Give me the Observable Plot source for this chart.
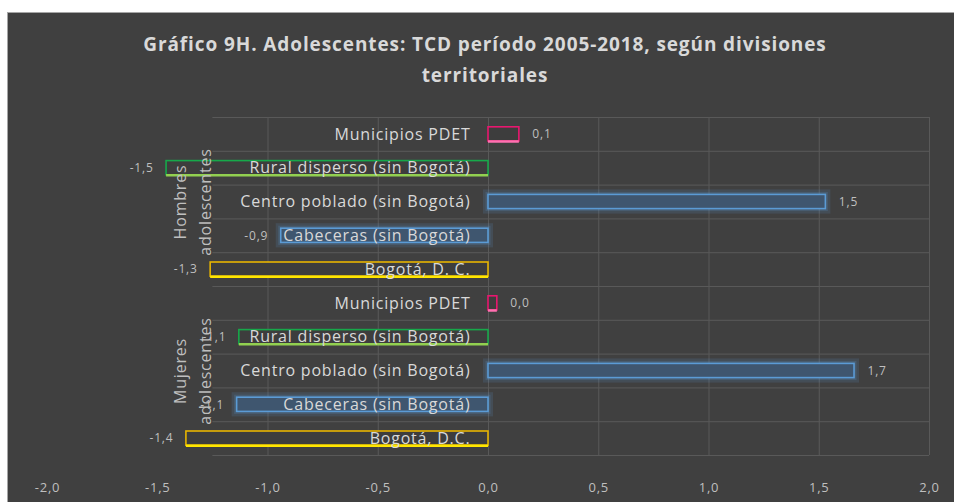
<!DOCTYPE html>
<html><head><meta charset="utf-8">
<script src="https://cdn.jsdelivr.net/npm/d3@7"></script>
<script src="https://cdn.jsdelivr.net/npm/@observablehq/plot@0.6"></script>
<style>
body{margin:0;background:#fff;}
#wrap{position:absolute;left:7px;top:12px;width:947px;height:490px;background:#404040;border-top:1px solid #a6a6a6;border-left:1px solid #a6a6a6;overflow:hidden;}
#title{height:88px;box-sizing:border-box;padding-top:16px;padding-left:7px;text-align:center;color:#d9d9d9;font:bold 19px "Open Sans";letter-spacing:0.9px;line-height:31px;}
#chart svg{display:block;}
</style></head>
<body><div id="wrap"><div id="title">Gráfico 9H. Adolescentes: TCD período 2005-2018, según divisiones<br>territoriales</div><div id="chart"></div></div>
<script>
const groups = ["Hombres\nadolescentes", "Mujeres\nadolescentes"];
const categoriesHombres = ["Municipios PDET", "Rural disperso (sin Bogotá)", "Centro poblado (sin Bogotá)", "Cabeceras (sin Bogotá)", "Bogotá, D. C."];
const categoriesMujeres = ["Municipios PDET", "Rural disperso (sin Bogotá)", "Centro poblado (sin Bogotá)", "Cabeceras (sin Bogotá)", "Bogotá, D.C."];
const hombresValues = [0.14, -1.46, 1.53, -0.94, -1.26];
const mujeresValues = [0.04, -1.13, 1.66, -1.14, -1.37];
const xTicks = [-2, -1.5, -1, -0.5, 0, 0.5, 1, 1.5, 2];
const gridTicks = [-1, -0.5, 0, 0.5, 1, 1.5, 2];

const strokes = ["#e8176f", "#17a84a", "#5b9bd5", "#5b9bd5", "#e6b400"];
const fills = ["#3d3d3d", "#3d3d3d", "#3f566f", "#3f566f", "#3d3d3d"];
const bottoms = ["#ff70b0", "#92d050", null, null, "#ffe600"];

const rows = [];
groups.forEach((g, gi) => {
  const cats = gi === 0 ? categoriesHombres : categoriesMujeres;
  const vals = gi === 0 ? hombresValues : mujeresValues;
  cats.forEach((c, ci) => rows.push({group: g, gi, ci, label: c, value: vals[ci], i: gi * cats.length + ci}));
});
const groupRows = groups.map((g, gi) => ({text: g, center: d3.mean(rows.filter(r => r.gi === gi), r => r.i)}));
const fmt = v => v.toFixed(1).replace(".", ",");
const half = 0.21;
const y1 = d => d.i - half, y2 = d => d.i + half;

const chart = Plot.plot({
  width: 947, height: 401,
  marginLeft: 39, marginRight: 26, marginTop: 16, marginBottom: 47,
  style: {background: "transparent", color: "#bfbfbf", fontFamily: "Open Sans", fontSize: "13px", letterSpacing: "0.8px", overflow: "visible"},
  x: {domain: [-2, 2]},
  y: {domain: [rows.length - 0.5, -0.5], axis: null},
  marks: [
    Plot.ruleY(d3.range(rows.length + 1).map(k => k - 0.5), {x1: -1.25, x2: 2, stroke: "#595959", strokeWidth: 1}),
    Plot.ruleX(gridTicks, {y1: -0.5, y2: rows.length - 0.5, stroke: "#595959", strokeWidth: 1}),
    Plot.rectX(rows.filter(d => bottoms[d.ci] === null), {x1: 0, x2: "value", y1, y2, fill: "none", stroke: "#5b9bd5", strokeOpacity: 0.15, strokeWidth: 10}),
    Plot.rectX(rows.filter(d => bottoms[d.ci] === null), {x1: 0, x2: "value", y1, y2, fill: "none", stroke: "#5b9bd5", strokeOpacity: 0.2, strokeWidth: 5}),
    Plot.rectX(rows, {x1: 0, x2: "value", y1, y2, fill: d => fills[d.ci], stroke: d => strokes[d.ci], strokeWidth: 1.6}),
    Plot.ruleY(rows.filter(d => bottoms[d.ci] !== null), {y: y2, x1: 0, x2: "value", stroke: d => bottoms[d.ci], strokeWidth: 2.5}),
    Plot.text(rows, {x: 0, y: "i", text: "label", textAnchor: "end", dx: -18, fill: "#d9d9d9", fontSize: 16}),
    Plot.text(rows.filter(d => d.value >= 0), {x: "value", y: "i", text: d => fmt(d.value), textAnchor: "start", dx: 13, fill: "#bfbfbf", fontSize: 12}),
    Plot.text(rows.filter(d => d.value < 0), {x: "value", y: "i", text: d => fmt(d.value), textAnchor: "end", dx: -13, fill: "#bfbfbf", fontSize: 12}),
    Plot.text(groupRows, {frameAnchor: "left", y: "center", text: "text", rotate: -90, textAnchor: "middle", dx: 143, fontSize: 16, lineHeight: 1.55, fill: "#bfbfbf"}),
    Plot.axisX(xTicks, {tickSize: 0, tickPadding: 27, tickFormat: fmt, label: null, fill: "#bfbfbf", fontSize: 13})
  ]
});
document.getElementById("chart").appendChild(chart);
</script>
</body></html>
